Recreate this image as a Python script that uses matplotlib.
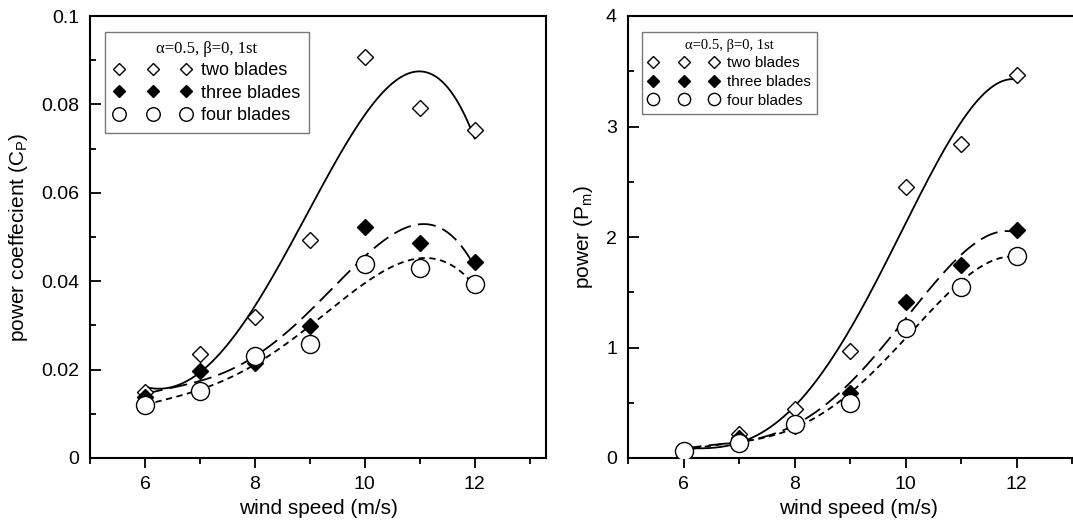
import numpy as np
import matplotlib
matplotlib.use("Agg")
import matplotlib.pyplot as plt
from matplotlib.ticker import MultipleLocator

plt.rcParams['font.family'] = ['Liberation Sans', 'DejaVu Sans']
plt.rcParams['mathtext.default'] = 'regular'

# wind speed (m/s)
speed = [6, 7, 8, 9, 10, 11, 12]

# power coefficient Cp
cp_two = [0.0149, 0.0235, 0.0318, 0.0493, 0.0907, 0.0791, 0.0742]
cp_three = [0.0138, 0.0197, 0.0214, 0.0299, 0.0522, 0.0486, 0.0443]
cp_four = [0.0120, 0.0152, 0.0230, 0.0258, 0.0438, 0.0430, 0.0394]

# power Pm
pm_two = [0.065, 0.22, 0.44, 0.97, 2.45, 2.84, 3.47]
pm_three = [0.07, 0.18, 0.29, 0.59, 1.41, 1.75, 2.06]
pm_four = [0.06, 0.14, 0.31, 0.50, 1.18, 1.55, 1.83]

labels = ["two blades", "three blades", "four blades"]
legend_title = "α=0.5, β=0, 1st"


def dibujar(ax, series, ymax, ymajor, yminor, ylabel, leg_kw, fs_title):
    estilos = [
        dict(marker='D', mfc='white', mec='black', ms=8.5, mew=1.0),
        dict(marker='D', mfc='black', mec='black', ms=8.5, mew=1.0),
        dict(marker='o', mfc='white', mec='black', ms=13, mew=1.0),
    ]
    lineas = ['-', (0, (10, 4)), (0, (3.5, 2.5))]
    xs = np.linspace(6, 12, 300)
    handles = []
    for y, st, ls, lab in zip(series, estilos, lineas, labels):
        coef = np.polyfit(speed, y, 4)
        ax.plot(xs, np.polyval(coef, xs), color='black', lw=1.3, ls=ls, zorder=2)
        h, = ax.plot(speed, y, ls='none', zorder=3, label=lab, **st)
        handles.append(h)

    ax.set_xlim(5, 13.3)
    ax.set_ylim(0, ymax)
    ax.xaxis.set_major_locator(MultipleLocator(2))
    ax.xaxis.set_minor_locator(MultipleLocator(1))
    ax.yaxis.set_major_locator(MultipleLocator(ymajor))
    ax.yaxis.set_minor_locator(MultipleLocator(yminor))
    ax.tick_params(axis='x', which='major', direction='out', length=7, width=1.3, labelsize=14, pad=6)
    ax.tick_params(axis='x', which='minor', direction='out', length=4, width=1.3)
    ax.tick_params(axis='y', which='major', direction='in', length=8, width=1.3, labelsize=14, pad=8)
    ax.tick_params(axis='y', which='minor', direction='in', length=4, width=1.3)
    for s in ax.spines.values():
        s.set_linewidth(1.5)
    ax.set_xlabel("wind speed (m/s)", fontsize=15, labelpad=4)
    ax.set_ylabel(ylabel, fontsize=15, labelpad=8)

    leg = ax.legend(handles=handles, loc='upper left', borderaxespad=0,
                    numpoints=3, title=legend_title, fancybox=False,
                    framealpha=1, edgecolor='#777777', **leg_kw)
    leg.get_title().set_fontfamily('Liberation Serif')
    leg.get_title().set_fontsize(fs_title)
    leg.get_frame().set_linewidth(1.0)


fig = plt.figure(figsize=(10.73, 5.23), dpi=100)
ax1 = fig.add_axes([90 / 1073, 65 / 523, 456 / 1073, 442 / 523])
ax2 = fig.add_axes([628 / 1073, 65 / 523, 461 / 1073, 442 / 523])

dibujar(ax1, [cp_two, cp_three, cp_four], 0.1, 0.02, 0.01,
        "power coeffecient (C$_P$)",
        dict(bbox_to_anchor=(0.033, 0.964), fontsize=13, handlelength=4.3,
             handletextpad=0.5, labelspacing=0.3, borderpad=0.5,
             markerscale=0.75), 12)
ax1.yaxis.set_major_formatter(plt.FuncFormatter(lambda v, p: f"{v:g}"))

dibujar(ax2, [pm_two, pm_three, pm_four], 4, 1, 0.5,
        "power (P$_m$)",
        dict(bbox_to_anchor=(0.030, 0.964), fontsize=11, handlelength=4.6,
             handletextpad=0.5, labelspacing=0.3, borderpad=0.45,
             markerscale=0.68), 10.5)

fig.savefig("out.png", dpi=100)
